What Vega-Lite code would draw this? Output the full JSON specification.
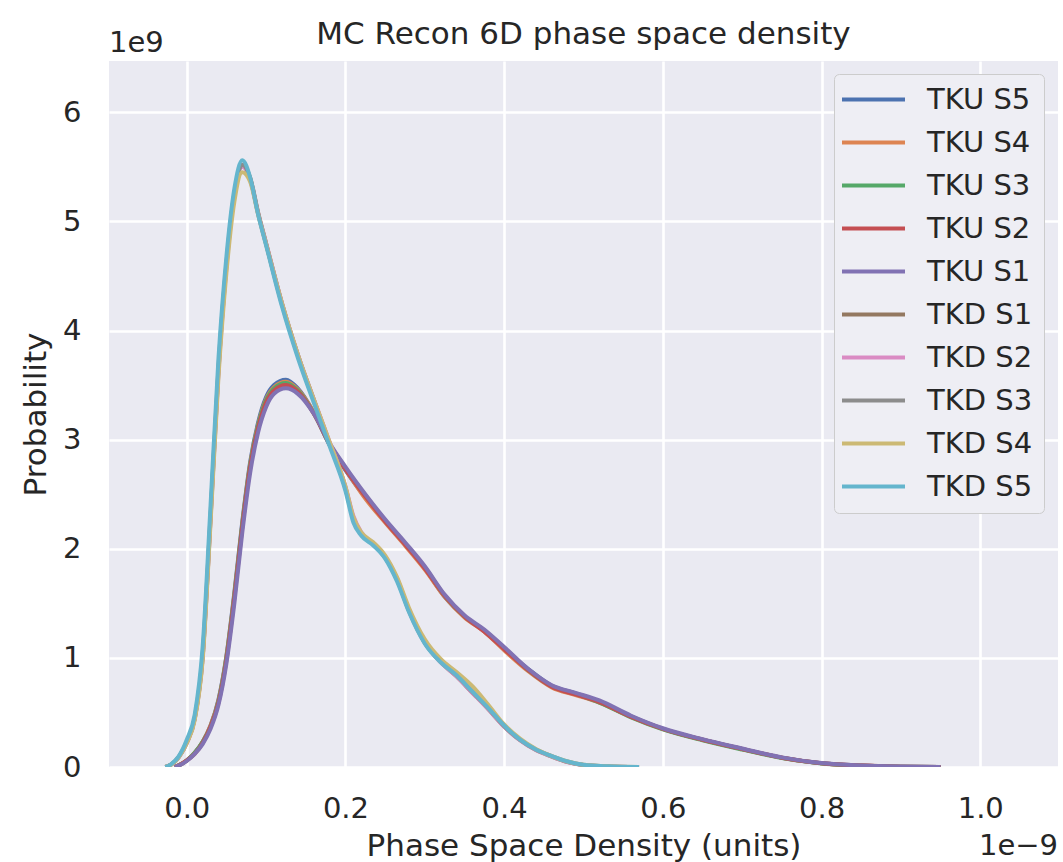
{
  "$schema": "https://vega.github.io/schema/vega-lite/v6.json",
  "autosize": {"type": "none"},
  "padding": {"left": 109, "top": 61, "right": 5, "bottom": 95},
  "width": 949,
  "height": 706,
  "background": "white",
  "title": {"text": "MC Recon 6D phase space density", "font": "DejaVu Sans", "fontSize": 31, "fontWeight": "normal", "color": "#262626", "anchor": "middle", "frame": "group", "baseline": "bottom", "offset": -53},
  "config": {
    "view": {"fill": "#EAEAF2", "stroke": null},
    "axis": {"domain": false, "ticks": false, "grid": true, "gridColor": "#FFFFFF", "gridWidth": 2.6, "labelFont": "DejaVu Sans", "labelFontSize": 29, "labelColor": "#262626", "titleFont": "DejaVu Sans", "titleFontSize": 31, "titleFontWeight": "normal", "titleColor": "#262626"}
  },
  "datasets": {
    "curves": [
      {"s":"TKU S5","x":-0.015,"y":0},{"s":"TKU S5","x":-0.01,"y":0.015},{"s":"TKU S5","x":0.0,"y":0.06},{"s":"TKU S5","x":0.01,"y":0.13},{"s":"TKU S5","x":0.02,"y":0.23},{"s":"TKU S5","x":0.03,"y":0.38},{"s":"TKU S5","x":0.04,"y":0.62},{"s":"TKU S5","x":0.05,"y":1.02},{"s":"TKU S5","x":0.06,"y":1.6},{"s":"TKU S5","x":0.07,"y":2.25},{"s":"TKU S5","x":0.08,"y":2.8},{"s":"TKU S5","x":0.09,"y":3.16},{"s":"TKU S5","x":0.1,"y":3.39},{"s":"TKU S5","x":0.11,"y":3.5},{"s":"TKU S5","x":0.125,"y":3.55},{"s":"TKU S5","x":0.14,"y":3.47},{"s":"TKU S5","x":0.16,"y":3.25},{"s":"TKU S5","x":0.18,"y":2.95},{"s":"TKU S5","x":0.2,"y":2.72},{"s":"TKU S5","x":0.225,"y":2.47},{"s":"TKU S5","x":0.25,"y":2.25},{"s":"TKU S5","x":0.275,"y":2.04},{"s":"TKU S5","x":0.3,"y":1.82},{"s":"TKU S5","x":0.325,"y":1.56},{"s":"TKU S5","x":0.35,"y":1.38},{"s":"TKU S5","x":0.375,"y":1.25},{"s":"TKU S5","x":0.4,"y":1.08},{"s":"TKU S5","x":0.43,"y":0.9},{"s":"TKU S5","x":0.46,"y":0.745},{"s":"TKU S5","x":0.49,"y":0.675},{"s":"TKU S5","x":0.52,"y":0.6},{"s":"TKU S5","x":0.56,"y":0.465},{"s":"TKU S5","x":0.6,"y":0.35},{"s":"TKU S5","x":0.65,"y":0.25},{"s":"TKU S5","x":0.7,"y":0.165},{"s":"TKU S5","x":0.75,"y":0.085},{"s":"TKU S5","x":0.8,"y":0.034},{"s":"TKU S5","x":0.85,"y":0.013},{"s":"TKU S5","x":0.9,"y":0.003},{"s":"TKU S5","x":0.95,"y":0},

      {"s":"TKU S4","x":-0.015,"y":0},{"s":"TKU S4","x":-0.01,"y":0.015},{"s":"TKU S4","x":0.0,"y":0.06},{"s":"TKU S4","x":0.01,"y":0.13},{"s":"TKU S4","x":0.02,"y":0.23},{"s":"TKU S4","x":0.03,"y":0.38},{"s":"TKU S4","x":0.04,"y":0.61},{"s":"TKU S4","x":0.05,"y":1.01},{"s":"TKU S4","x":0.06,"y":1.58},{"s":"TKU S4","x":0.07,"y":2.23},{"s":"TKU S4","x":0.08,"y":2.78},{"s":"TKU S4","x":0.09,"y":3.14},{"s":"TKU S4","x":0.1,"y":3.37},{"s":"TKU S4","x":0.11,"y":3.48},{"s":"TKU S4","x":0.125,"y":3.53},{"s":"TKU S4","x":0.14,"y":3.46},{"s":"TKU S4","x":0.16,"y":3.25},{"s":"TKU S4","x":0.18,"y":2.96},{"s":"TKU S4","x":0.2,"y":2.73},{"s":"TKU S4","x":0.225,"y":2.46},{"s":"TKU S4","x":0.25,"y":2.24},{"s":"TKU S4","x":0.275,"y":2.03},{"s":"TKU S4","x":0.3,"y":1.81},{"s":"TKU S4","x":0.325,"y":1.56},{"s":"TKU S4","x":0.35,"y":1.37},{"s":"TKU S4","x":0.375,"y":1.24},{"s":"TKU S4","x":0.4,"y":1.07},{"s":"TKU S4","x":0.43,"y":0.88},{"s":"TKU S4","x":0.46,"y":0.73},{"s":"TKU S4","x":0.49,"y":0.66},{"s":"TKU S4","x":0.52,"y":0.59},{"s":"TKU S4","x":0.56,"y":0.46},{"s":"TKU S4","x":0.6,"y":0.35},{"s":"TKU S4","x":0.65,"y":0.25},{"s":"TKU S4","x":0.7,"y":0.165},{"s":"TKU S4","x":0.75,"y":0.085},{"s":"TKU S4","x":0.8,"y":0.035},{"s":"TKU S4","x":0.85,"y":0.013},{"s":"TKU S4","x":0.9,"y":0.003},{"s":"TKU S4","x":0.95,"y":0},

      {"s":"TKU S3","x":-0.015,"y":0},{"s":"TKU S3","x":-0.01,"y":0.015},{"s":"TKU S3","x":0.0,"y":0.06},{"s":"TKU S3","x":0.01,"y":0.13},{"s":"TKU S3","x":0.02,"y":0.23},{"s":"TKU S3","x":0.03,"y":0.37},{"s":"TKU S3","x":0.04,"y":0.6},{"s":"TKU S3","x":0.05,"y":1.0},{"s":"TKU S3","x":0.06,"y":1.57},{"s":"TKU S3","x":0.07,"y":2.22},{"s":"TKU S3","x":0.08,"y":2.77},{"s":"TKU S3","x":0.09,"y":3.13},{"s":"TKU S3","x":0.1,"y":3.36},{"s":"TKU S3","x":0.11,"y":3.47},{"s":"TKU S3","x":0.125,"y":3.52},{"s":"TKU S3","x":0.14,"y":3.45},{"s":"TKU S3","x":0.16,"y":3.24},{"s":"TKU S3","x":0.18,"y":2.96},{"s":"TKU S3","x":0.2,"y":2.74},{"s":"TKU S3","x":0.225,"y":2.49},{"s":"TKU S3","x":0.25,"y":2.26},{"s":"TKU S3","x":0.275,"y":2.05},{"s":"TKU S3","x":0.3,"y":1.83},{"s":"TKU S3","x":0.325,"y":1.57},{"s":"TKU S3","x":0.35,"y":1.38},{"s":"TKU S3","x":0.375,"y":1.25},{"s":"TKU S3","x":0.4,"y":1.09},{"s":"TKU S3","x":0.43,"y":0.89},{"s":"TKU S3","x":0.46,"y":0.74},{"s":"TKU S3","x":0.49,"y":0.67},{"s":"TKU S3","x":0.52,"y":0.59},{"s":"TKU S3","x":0.56,"y":0.455},{"s":"TKU S3","x":0.6,"y":0.345},{"s":"TKU S3","x":0.65,"y":0.245},{"s":"TKU S3","x":0.7,"y":0.16},{"s":"TKU S3","x":0.75,"y":0.082},{"s":"TKU S3","x":0.8,"y":0.033},{"s":"TKU S3","x":0.85,"y":0.012},{"s":"TKU S3","x":0.9,"y":0.003},{"s":"TKU S3","x":0.95,"y":0},

      {"s":"TKU S2","x":-0.015,"y":0},{"s":"TKU S2","x":-0.01,"y":0.015},{"s":"TKU S2","x":0.0,"y":0.06},{"s":"TKU S2","x":0.01,"y":0.12},{"s":"TKU S2","x":0.02,"y":0.22},{"s":"TKU S2","x":0.03,"y":0.37},{"s":"TKU S2","x":0.04,"y":0.59},{"s":"TKU S2","x":0.05,"y":0.98},{"s":"TKU S2","x":0.06,"y":1.55},{"s":"TKU S2","x":0.07,"y":2.2},{"s":"TKU S2","x":0.08,"y":2.75},{"s":"TKU S2","x":0.09,"y":3.11},{"s":"TKU S2","x":0.1,"y":3.34},{"s":"TKU S2","x":0.11,"y":3.45},{"s":"TKU S2","x":0.125,"y":3.5},{"s":"TKU S2","x":0.14,"y":3.44},{"s":"TKU S2","x":0.16,"y":3.24},{"s":"TKU S2","x":0.18,"y":2.96},{"s":"TKU S2","x":0.2,"y":2.73},{"s":"TKU S2","x":0.225,"y":2.48},{"s":"TKU S2","x":0.25,"y":2.25},{"s":"TKU S2","x":0.275,"y":2.04},{"s":"TKU S2","x":0.3,"y":1.82},{"s":"TKU S2","x":0.325,"y":1.57},{"s":"TKU S2","x":0.35,"y":1.38},{"s":"TKU S2","x":0.375,"y":1.24},{"s":"TKU S2","x":0.4,"y":1.08},{"s":"TKU S2","x":0.43,"y":0.89},{"s":"TKU S2","x":0.46,"y":0.735},{"s":"TKU S2","x":0.49,"y":0.665},{"s":"TKU S2","x":0.52,"y":0.595},{"s":"TKU S2","x":0.56,"y":0.46},{"s":"TKU S2","x":0.6,"y":0.35},{"s":"TKU S2","x":0.65,"y":0.25},{"s":"TKU S2","x":0.7,"y":0.165},{"s":"TKU S2","x":0.75,"y":0.085},{"s":"TKU S2","x":0.8,"y":0.034},{"s":"TKU S2","x":0.85,"y":0.013},{"s":"TKU S2","x":0.9,"y":0.003},{"s":"TKU S2","x":0.95,"y":0},

      {"s":"TKU S1","x":-0.015,"y":0},{"s":"TKU S1","x":-0.01,"y":0.013},{"s":"TKU S1","x":0.0,"y":0.055},{"s":"TKU S1","x":0.01,"y":0.12},{"s":"TKU S1","x":0.02,"y":0.21},{"s":"TKU S1","x":0.03,"y":0.35},{"s":"TKU S1","x":0.04,"y":0.57},{"s":"TKU S1","x":0.05,"y":0.95},{"s":"TKU S1","x":0.06,"y":1.5},{"s":"TKU S1","x":0.07,"y":2.15},{"s":"TKU S1","x":0.08,"y":2.7},{"s":"TKU S1","x":0.09,"y":3.07},{"s":"TKU S1","x":0.1,"y":3.3},{"s":"TKU S1","x":0.11,"y":3.42},{"s":"TKU S1","x":0.125,"y":3.47},{"s":"TKU S1","x":0.14,"y":3.42},{"s":"TKU S1","x":0.16,"y":3.24},{"s":"TKU S1","x":0.18,"y":2.97},{"s":"TKU S1","x":0.2,"y":2.75},{"s":"TKU S1","x":0.225,"y":2.5},{"s":"TKU S1","x":0.25,"y":2.27},{"s":"TKU S1","x":0.275,"y":2.06},{"s":"TKU S1","x":0.3,"y":1.84},{"s":"TKU S1","x":0.325,"y":1.58},{"s":"TKU S1","x":0.35,"y":1.39},{"s":"TKU S1","x":0.375,"y":1.26},{"s":"TKU S1","x":0.4,"y":1.1},{"s":"TKU S1","x":0.43,"y":0.9},{"s":"TKU S1","x":0.46,"y":0.75},{"s":"TKU S1","x":0.49,"y":0.68},{"s":"TKU S1","x":0.52,"y":0.61},{"s":"TKU S1","x":0.56,"y":0.47},{"s":"TKU S1","x":0.6,"y":0.355},{"s":"TKU S1","x":0.65,"y":0.255},{"s":"TKU S1","x":0.7,"y":0.17},{"s":"TKU S1","x":0.75,"y":0.088},{"s":"TKU S1","x":0.8,"y":0.036},{"s":"TKU S1","x":0.85,"y":0.014},{"s":"TKU S1","x":0.9,"y":0.004},{"s":"TKU S1","x":0.95,"y":0},

      {"s":"TKD S1","x":-0.027,"y":0},{"s":"TKD S1","x":-0.02,"y":0.02},{"s":"TKD S1","x":-0.01,"y":0.09},{"s":"TKD S1","x":0.0,"y":0.22},{"s":"TKD S1","x":0.01,"y":0.44},{"s":"TKD S1","x":0.02,"y":1.0},{"s":"TKD S1","x":0.03,"y":2.28},{"s":"TKD S1","x":0.04,"y":3.64},{"s":"TKD S1","x":0.05,"y":4.6},{"s":"TKD S1","x":0.06,"y":5.25},{"s":"TKD S1","x":0.07,"y":5.52},{"s":"TKD S1","x":0.08,"y":5.4},{"s":"TKD S1","x":0.09,"y":5.08},{"s":"TKD S1","x":0.1,"y":4.8},{"s":"TKD S1","x":0.12,"y":4.25},{"s":"TKD S1","x":0.14,"y":3.78},{"s":"TKD S1","x":0.16,"y":3.37},{"s":"TKD S1","x":0.18,"y":2.97},{"s":"TKD S1","x":0.2,"y":2.56},{"s":"TKD S1","x":0.21,"y":2.28},{"s":"TKD S1","x":0.22,"y":2.14},{"s":"TKD S1","x":0.235,"y":2.04},{"s":"TKD S1","x":0.25,"y":1.92},{"s":"TKD S1","x":0.265,"y":1.72},{"s":"TKD S1","x":0.28,"y":1.44},{"s":"TKD S1","x":0.3,"y":1.14},{"s":"TKD S1","x":0.32,"y":0.96},{"s":"TKD S1","x":0.34,"y":0.83},{"s":"TKD S1","x":0.36,"y":0.68},{"s":"TKD S1","x":0.38,"y":0.53},{"s":"TKD S1","x":0.4,"y":0.37},{"s":"TKD S1","x":0.42,"y":0.245},{"s":"TKD S1","x":0.44,"y":0.155},{"s":"TKD S1","x":0.46,"y":0.095},{"s":"TKD S1","x":0.48,"y":0.045},{"s":"TKD S1","x":0.5,"y":0.018},{"s":"TKD S1","x":0.53,"y":0.005},{"s":"TKD S1","x":0.57,"y":0},

      {"s":"TKD S2","x":-0.027,"y":0},{"s":"TKD S2","x":-0.02,"y":0.02},{"s":"TKD S2","x":-0.01,"y":0.09},{"s":"TKD S2","x":0.0,"y":0.22},{"s":"TKD S2","x":0.01,"y":0.44},{"s":"TKD S2","x":0.02,"y":1.0},{"s":"TKD S2","x":0.03,"y":2.27},{"s":"TKD S2","x":0.04,"y":3.62},{"s":"TKD S2","x":0.05,"y":4.58},{"s":"TKD S2","x":0.06,"y":5.23},{"s":"TKD S2","x":0.07,"y":5.5},{"s":"TKD S2","x":0.08,"y":5.38},{"s":"TKD S2","x":0.09,"y":5.07},{"s":"TKD S2","x":0.1,"y":4.8},{"s":"TKD S2","x":0.12,"y":4.25},{"s":"TKD S2","x":0.14,"y":3.78},{"s":"TKD S2","x":0.16,"y":3.37},{"s":"TKD S2","x":0.18,"y":2.98},{"s":"TKD S2","x":0.2,"y":2.57},{"s":"TKD S2","x":0.21,"y":2.3},{"s":"TKD S2","x":0.22,"y":2.15},{"s":"TKD S2","x":0.235,"y":2.05},{"s":"TKD S2","x":0.25,"y":1.93},{"s":"TKD S2","x":0.265,"y":1.73},{"s":"TKD S2","x":0.28,"y":1.44},{"s":"TKD S2","x":0.3,"y":1.14},{"s":"TKD S2","x":0.32,"y":0.96},{"s":"TKD S2","x":0.34,"y":0.83},{"s":"TKD S2","x":0.36,"y":0.68},{"s":"TKD S2","x":0.38,"y":0.53},{"s":"TKD S2","x":0.4,"y":0.37},{"s":"TKD S2","x":0.42,"y":0.245},{"s":"TKD S2","x":0.44,"y":0.155},{"s":"TKD S2","x":0.46,"y":0.095},{"s":"TKD S2","x":0.48,"y":0.045},{"s":"TKD S2","x":0.5,"y":0.018},{"s":"TKD S2","x":0.53,"y":0.005},{"s":"TKD S2","x":0.57,"y":0},

      {"s":"TKD S3","x":-0.027,"y":0},{"s":"TKD S3","x":-0.02,"y":0.022},{"s":"TKD S3","x":-0.01,"y":0.095},{"s":"TKD S3","x":0.0,"y":0.23},{"s":"TKD S3","x":0.01,"y":0.45},{"s":"TKD S3","x":0.02,"y":1.03},{"s":"TKD S3","x":0.03,"y":2.31},{"s":"TKD S3","x":0.04,"y":3.67},{"s":"TKD S3","x":0.05,"y":4.62},{"s":"TKD S3","x":0.06,"y":5.26},{"s":"TKD S3","x":0.07,"y":5.52},{"s":"TKD S3","x":0.08,"y":5.39},{"s":"TKD S3","x":0.09,"y":5.07},{"s":"TKD S3","x":0.1,"y":4.79},{"s":"TKD S3","x":0.12,"y":4.24},{"s":"TKD S3","x":0.14,"y":3.77},{"s":"TKD S3","x":0.16,"y":3.36},{"s":"TKD S3","x":0.18,"y":2.96},{"s":"TKD S3","x":0.2,"y":2.55},{"s":"TKD S3","x":0.21,"y":2.27},{"s":"TKD S3","x":0.22,"y":2.14},{"s":"TKD S3","x":0.235,"y":2.04},{"s":"TKD S3","x":0.25,"y":1.92},{"s":"TKD S3","x":0.265,"y":1.72},{"s":"TKD S3","x":0.28,"y":1.43},{"s":"TKD S3","x":0.3,"y":1.14},{"s":"TKD S3","x":0.32,"y":0.97},{"s":"TKD S3","x":0.34,"y":0.84},{"s":"TKD S3","x":0.36,"y":0.69},{"s":"TKD S3","x":0.38,"y":0.54},{"s":"TKD S3","x":0.4,"y":0.375},{"s":"TKD S3","x":0.42,"y":0.25},{"s":"TKD S3","x":0.44,"y":0.16},{"s":"TKD S3","x":0.46,"y":0.1},{"s":"TKD S3","x":0.48,"y":0.048},{"s":"TKD S3","x":0.5,"y":0.019},{"s":"TKD S3","x":0.53,"y":0.005},{"s":"TKD S3","x":0.57,"y":0},

      {"s":"TKD S4","x":-0.027,"y":0},{"s":"TKD S4","x":-0.02,"y":0.02},{"s":"TKD S4","x":-0.01,"y":0.09},{"s":"TKD S4","x":0.0,"y":0.22},{"s":"TKD S4","x":0.01,"y":0.43},{"s":"TKD S4","x":0.02,"y":0.98},{"s":"TKD S4","x":0.03,"y":2.24},{"s":"TKD S4","x":0.04,"y":3.58},{"s":"TKD S4","x":0.05,"y":4.53},{"s":"TKD S4","x":0.06,"y":5.18},{"s":"TKD S4","x":0.07,"y":5.45},{"s":"TKD S4","x":0.08,"y":5.36},{"s":"TKD S4","x":0.09,"y":5.06},{"s":"TKD S4","x":0.1,"y":4.79},{"s":"TKD S4","x":0.12,"y":4.25},{"s":"TKD S4","x":0.14,"y":3.78},{"s":"TKD S4","x":0.16,"y":3.37},{"s":"TKD S4","x":0.18,"y":2.98},{"s":"TKD S4","x":0.2,"y":2.57},{"s":"TKD S4","x":0.21,"y":2.29},{"s":"TKD S4","x":0.22,"y":2.15},{"s":"TKD S4","x":0.235,"y":2.06},{"s":"TKD S4","x":0.25,"y":1.94},{"s":"TKD S4","x":0.265,"y":1.74},{"s":"TKD S4","x":0.28,"y":1.46},{"s":"TKD S4","x":0.3,"y":1.17},{"s":"TKD S4","x":0.32,"y":0.99},{"s":"TKD S4","x":0.34,"y":0.87},{"s":"TKD S4","x":0.36,"y":0.74},{"s":"TKD S4","x":0.38,"y":0.57},{"s":"TKD S4","x":0.4,"y":0.39},{"s":"TKD S4","x":0.42,"y":0.26},{"s":"TKD S4","x":0.44,"y":0.165},{"s":"TKD S4","x":0.46,"y":0.1},{"s":"TKD S4","x":0.48,"y":0.05},{"s":"TKD S4","x":0.5,"y":0.02},{"s":"TKD S4","x":0.53,"y":0.006},{"s":"TKD S4","x":0.57,"y":0},

      {"s":"TKD S5","x":-0.027,"y":0},{"s":"TKD S5","x":-0.02,"y":0.025},{"s":"TKD S5","x":-0.01,"y":0.1},{"s":"TKD S5","x":0.0,"y":0.25},{"s":"TKD S5","x":0.01,"y":0.48},{"s":"TKD S5","x":0.02,"y":1.1},{"s":"TKD S5","x":0.03,"y":2.4},{"s":"TKD S5","x":0.04,"y":3.75},{"s":"TKD S5","x":0.05,"y":4.68},{"s":"TKD S5","x":0.06,"y":5.3},{"s":"TKD S5","x":0.07,"y":5.56},{"s":"TKD S5","x":0.08,"y":5.4},{"s":"TKD S5","x":0.09,"y":5.06},{"s":"TKD S5","x":0.1,"y":4.78},{"s":"TKD S5","x":0.12,"y":4.22},{"s":"TKD S5","x":0.14,"y":3.75},{"s":"TKD S5","x":0.16,"y":3.34},{"s":"TKD S5","x":0.18,"y":2.94},{"s":"TKD S5","x":0.2,"y":2.53},{"s":"TKD S5","x":0.21,"y":2.24},{"s":"TKD S5","x":0.22,"y":2.12},{"s":"TKD S5","x":0.235,"y":2.03},{"s":"TKD S5","x":0.25,"y":1.91},{"s":"TKD S5","x":0.265,"y":1.7},{"s":"TKD S5","x":0.28,"y":1.42},{"s":"TKD S5","x":0.3,"y":1.13},{"s":"TKD S5","x":0.32,"y":0.96},{"s":"TKD S5","x":0.34,"y":0.84},{"s":"TKD S5","x":0.36,"y":0.69},{"s":"TKD S5","x":0.38,"y":0.54},{"s":"TKD S5","x":0.4,"y":0.38},{"s":"TKD S5","x":0.42,"y":0.25},{"s":"TKD S5","x":0.44,"y":0.16},{"s":"TKD S5","x":0.46,"y":0.1},{"s":"TKD S5","x":0.48,"y":0.05},{"s":"TKD S5","x":0.5,"y":0.02},{"s":"TKD S5","x":0.53,"y":0.006},{"s":"TKD S5","x":0.57,"y":0}
    ],
    "notes": [
      {"t": "1e9", "x": -0.098, "y": 6.47, "pos": "yoff"},
      {"t": "1e\u22129", "x": 1.098, "y": 0, "pos": "xoff"}
    ]
  },
  "layer": [
    {
      "data": {"name": "curves"},
      "mark": {"type": "line", "strokeWidth": 4, "interpolate": "monotone", "clip": true},
      "encoding": {
        "x": {"field": "x", "type": "quantitative", "scale": {"domain": [-0.098, 1.098], "nice": false, "zero": false}, "axis": {"values": [0, 0.2, 0.4, 0.6, 0.8, 1.0], "format": ".1f", "labelPadding": 27, "title": "Phase Space Density (units)", "titlePadding": 8}},
        "y": {"field": "y", "type": "quantitative", "scale": {"domain": [0, 6.47], "nice": false}, "axis": {"values": [0, 1, 2, 3, 4, 5, 6], "format": "d", "labelPadding": 28, "title": "Probability", "titlePadding": 10}},
        "color": {"field": "s", "type": "nominal", "sort": ["TKU S5", "TKU S4", "TKU S3", "TKU S2", "TKU S1", "TKD S1", "TKD S2", "TKD S3", "TKD S4", "TKD S5"],
          "scale": {"domain": ["TKU S5", "TKU S4", "TKU S3", "TKU S2", "TKU S1", "TKD S1", "TKD S2", "TKD S3", "TKD S4", "TKD S5"], "range": ["#4C72B0", "#DD8452", "#55A868", "#C44E52", "#8172B3", "#937860", "#DA8BC3", "#8C8C8C", "#CCB974", "#64B5CD"]},
          "legend": {"title": null, "orient": "none", "legendX": 725, "legendY": 13, "symbolType": "M-3,0L3,0", "symbolSize": 441, "symbolStrokeWidth": 4, "symbolOffset": 14, "labelFont": "DejaVu Sans", "labelFontSize": 29, "labelColor": "#262626", "labelOffset": 39, "rowPadding": 13, "padding": 11, "fillColor": "#EEEEF4", "strokeColor": "#CCCCCC", "cornerRadius": 5}}
      }
    },
    {
      "data": {"name": "notes"},
      "transform": [{"filter": "datum.pos == 'yoff'"}],
      "mark": {"type": "text", "align": "left", "baseline": "alphabetic", "dy": -9, "font": "DejaVu Sans", "fontSize": 29, "color": "#262626"},
      "encoding": {"x": {"field": "x", "type": "quantitative"}, "y": {"field": "y", "type": "quantitative"}, "text": {"field": "t"}}
    },
    {
      "data": {"name": "notes"},
      "transform": [{"filter": "datum.pos == 'xoff'"}],
      "mark": {"type": "text", "align": "right", "baseline": "alphabetic", "dy": 88, "font": "DejaVu Sans", "fontSize": 29, "color": "#262626"},
      "encoding": {"x": {"field": "x", "type": "quantitative"}, "y": {"field": "y", "type": "quantitative"}, "text": {"field": "t"}}
    }
  ]
}
